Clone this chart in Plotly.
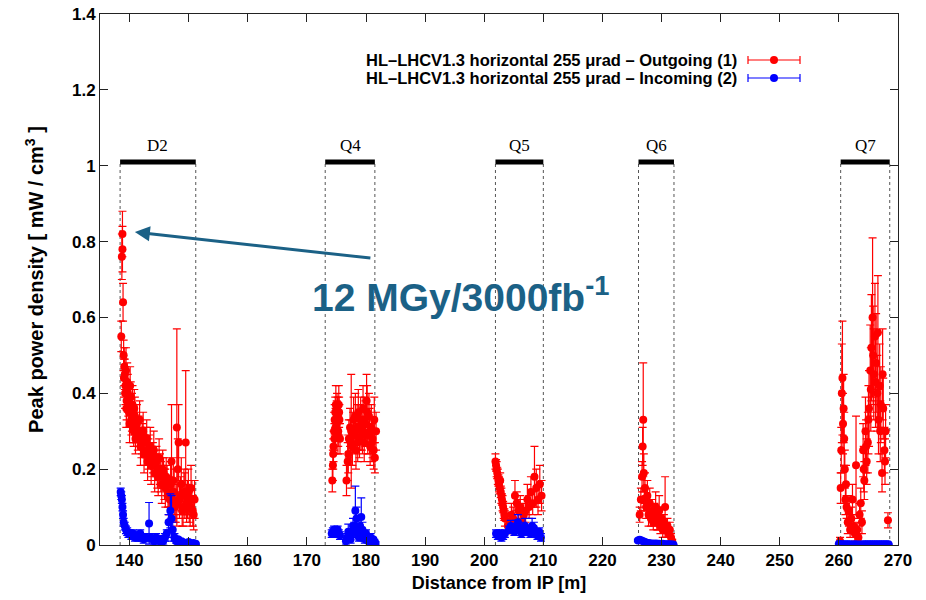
import plotly.graph_objects as go

# ---------------- data ----------------
# Outgoing (1) - red
out_x_d2 = [138.6,138.7,138.8,138.8,138.9,139.0,139.1,139.2,139.3,139.4,139.5,139.7,139.9,140.1,140.3,140.5,140.7,140.9,141.1,141.4,141.7,142.0,142.3,142.6,142.9,143.2,143.5,143.8,144.1,144.4,144.7,145.0,145.3,145.6,145.9,146.2,146.5,146.8,147.1,147.4,147.7,148.0,148.3,148.6,148.9,149.2,149.5,149.8,150.1,150.4,150.7,151.0,
            139.05,139.25,139.45,139.6,139.8,140.0,140.2,140.4,140.6,140.8,141.0,141.25,141.55,141.85,142.15,142.45,142.75,143.05,143.35,143.65,143.95,144.25,144.55,144.85,145.15,145.45,145.75,146.05,146.35,146.65,146.95,147.25,147.55,147.85,148.15,148.45,148.75,149.05,149.35,149.65,149.95,150.25,150.55,150.85]
out_y_d2 = [0.55,0.76,0.82,0.78,0.64,0.50,0.47,0.45,0.42,0.46,0.38,0.40,0.35,0.42,0.33,0.37,0.30,0.34,0.31,0.29,0.33,0.27,0.30,0.25,0.28,0.24,0.26,0.22,0.25,0.21,0.19,0.23,0.18,0.20,0.16,0.18,0.14,0.12,0.22,0.17,0.10,0.31,0.27,0.13,0.09,0.14,0.27,0.12,0.10,0.15,0.09,0.12,
            0.44,0.40,0.36,0.43,0.38,0.32,0.39,0.35,0.31,0.36,0.28,0.32,0.30,0.26,0.28,0.24,0.27,0.22,0.25,0.21,0.23,0.19,0.22,0.18,0.20,0.16,0.19,0.15,0.17,0.13,0.16,0.12,0.14,0.11,0.20,0.12,0.16,0.10,0.13,0.11,0.14,0.10,0.12,0.08]
out_e_d2 = [0.04,0.06,0.06,0.06,0.05,0.04,0.05,0.04,0.05,0.06,0.05,0.05,0.04,0.05,0.04,0.05,0.04,0.05,0.04,0.04,0.05,0.04,0.05,0.04,0.05,0.04,0.05,0.04,0.05,0.04,0.04,0.05,0.04,0.05,0.04,0.05,0.04,0.04,0.15,0.06,0.04,0.26,0.10,0.05,0.04,0.06,0.19,0.05,0.04,0.06,0.04,0.05,
            0.05,0.04,0.05,0.05,0.04,0.05,0.04,0.05,0.04,0.05,0.04,0.05,0.04,0.05,0.04,0.05,0.04,0.05,0.04,0.05,0.04,0.05,0.04,0.05,0.04,0.05,0.04,0.05,0.04,0.05,0.06,0.05,0.06,0.05,0.08,0.05,0.07,0.05,0.06,0.05,0.06,0.05,0.05,0.04]

out_x_q4 = [174.3,174.4,174.5,174.6,174.7,174.8,174.9,175.0,175.1,175.2,175.3,175.4,175.5,175.6,
            176.7,176.9,177.1,177.3,177.5,177.7,177.9,178.1,178.3,178.5,178.7,178.9,179.1,179.3,179.5,179.7,179.9,180.1,180.3,180.5,180.7,180.9,181.1,181.3,181.5,181.7,
            174.45,174.65,174.85,175.05,175.25,175.45,177.0,177.4,177.8,178.2,178.6,179.0,179.4,179.8,180.2,180.6,181.0,181.4]
out_y_q4 = [0.17,0.21,0.26,0.30,0.33,0.35,0.37,0.32,0.36,0.34,0.30,0.37,0.33,0.28,
            0.17,0.22,0.28,0.31,0.30,0.26,0.33,0.29,0.25,0.31,0.35,0.28,0.33,0.30,0.36,0.27,0.32,0.38,0.29,0.34,0.26,0.31,0.28,0.25,0.23,0.30,
            0.24,0.28,0.31,0.34,0.29,0.35,0.24,0.27,0.30,0.34,0.27,0.31,0.29,0.33,0.35,0.30,0.27,0.33]
out_e_q4 = [0.03,0.04,0.04,0.05,0.04,0.04,0.05,0.04,0.04,0.05,0.04,0.05,0.04,0.04,
            0.04,0.05,0.05,0.05,0.15,0.05,0.06,0.05,0.05,0.06,0.06,0.05,0.06,0.05,0.06,0.05,0.06,0.07,0.05,0.06,0.05,0.06,0.05,0.05,0.04,0.05,
            0.04,0.04,0.05,0.04,0.05,0.04,0.05,0.06,0.05,0.06,0.05,0.06,0.05,0.06,0.07,0.06,0.05,0.06]

out_x_q5 = [201.9,202.0,202.1,202.2,202.3,202.4,202.5,202.6,202.7,202.8,202.9,203.0,203.1,203.2,203.3,203.4,203.5,
            204.0,204.3,204.6,204.9,205.2,205.5,205.8,206.1,206.4,206.7,207.0,207.3,207.6,207.9,208.2,208.5,208.8,209.1,209.4,209.7]
out_y_q5 = [0.22,0.21,0.20,0.19,0.18,0.17,0.16,0.15,0.17,0.14,0.13,0.12,0.11,0.10,0.09,0.08,0.07,
            0.05,0.06,0.08,0.07,0.13,0.11,0.09,0.10,0.06,0.08,0.09,0.12,0.10,0.14,0.11,0.18,0.15,0.12,0.16,0.13]
out_e_q5 = [0.02,0.015,0.02,0.015,0.02,0.015,0.02,0.015,0.02,0.015,0.02,0.015,0.02,0.015,0.02,0.015,0.02,
            0.02,0.02,0.03,0.03,0.04,0.03,0.03,0.03,0.02,0.03,0.03,0.04,0.03,0.04,0.03,0.08,0.05,0.04,0.05,0.04]

out_x_q6 = [226.3,226.5,226.7,226.8,226.9,227.0,227.1,227.2,227.4,227.6,227.8,228.0,228.2,228.4,228.6,228.8,229.0,229.2,229.4,229.6,229.8,230.0,230.2,230.4,230.6,230.8,231.0,231.2,231.4,231.6,231.8]
out_y_q6 = [0.08,0.12,0.18,0.26,0.33,0.19,0.12,0.15,0.10,0.13,0.08,0.11,0.07,0.09,0.06,0.08,0.10,0.06,0.07,0.09,0.05,0.07,0.04,0.06,0.10,0.04,0.05,0.03,0.04,0.02,0.01]
out_e_q6 = [0.02,0.03,0.04,0.05,0.15,0.05,0.03,0.04,0.03,0.04,0.03,0.04,0.02,0.03,0.02,0.03,0.04,0.02,0.03,0.04,0.02,0.03,0.02,0.02,0.08,0.02,0.02,0.01,0.02,0.01,0.005]

out_x_q7 = [260.2,260.3,260.4,260.5,260.6,260.7,260.8,260.9,261.0,261.1,261.2,261.3,261.5,261.7,261.9,262.1,262.3,262.5,262.7,262.9,263.1,263.3,263.5,263.7,263.9,264.1,264.3,264.5,264.7,264.9,265.1,265.3,265.5,265.7,265.9,266.1,266.3,266.5,266.7,266.9,267.1,267.3,267.5,267.7,267.9,268.3,
            264.2,264.6,265.0,265.4,265.8,266.2,266.6,267.0,267.4,267.8]
out_y_q7 = [0.01,0.15,0.25,0.40,0.44,0.32,0.36,0.28,0.20,0.12,0.16,0.10,0.06,0.09,0.04,0.07,0.12,0.05,0.03,0.21,0.04,0.02,0.08,0.11,0.06,0.25,0.17,0.30,0.22,0.27,0.36,0.46,0.52,0.60,0.45,0.55,0.48,0.40,0.33,0.42,0.37,0.19,0.36,0.25,0.30,0.065,
            0.20,0.26,0.33,0.41,0.50,0.43,0.56,0.30,0.45,0.22]
out_e_q7 = [0.01,0.04,0.06,0.13,0.15,0.08,0.09,0.07,0.05,0.04,0.05,0.03,0.03,0.04,0.02,0.03,0.04,0.02,0.02,0.13,0.02,0.01,0.03,0.04,0.03,0.07,0.05,0.09,0.06,0.08,0.10,0.12,0.14,0.21,0.12,0.14,0.13,0.10,0.09,0.11,0.10,0.05,0.08,0.06,0.07,0.02,
            0.06,0.07,0.09,0.11,0.13,0.12,0.15,0.08,0.12,0.06]

# Incoming (2) - blue
in_x_d2 = [138.5,138.6,138.7,138.8,138.9,139.0,139.2,139.4,139.6,139.8,140.0,140.3,140.6,140.9,141.2,141.5,141.8,142.1,142.4,142.7,143.3,143.6,143.9,144.2,144.5,144.8,145.1,145.4,145.7,146.0,146.3,146.6,146.9,147.1,147.3,147.6,147.9,148.2,148.5,148.8,149.2,149.6,150.0,150.4,150.8,151.2]
in_y_d2 = [0.14,0.13,0.12,0.10,0.08,0.06,0.05,0.04,0.035,0.03,0.03,0.025,0.03,0.02,0.025,0.02,0.03,0.02,0.015,0.02,0.057,0.02,0.015,0.01,0.02,0.015,0.01,0.015,0.01,0.02,0.03,0.06,0.09,0.07,0.04,0.02,0.01,0.015,0.008,0.01,0.006,0.005,0.008,0.004,0.005,0.003]
in_e_d2 = [0.01,0.01,0.01,0.01,0.01,0.01,0.01,0.01,0.01,0.01,0.01,0.01,0.01,0.01,0.01,0.01,0.01,0.01,0.01,0.01,0.055,0.01,0.01,0.01,0.01,0.01,0.01,0.01,0.01,0.01,0.01,0.02,0.045,0.06,0.02,0.01,0.005,0.005,0.005,0.005,0.003,0.003,0.003,0.002,0.002,0.002]

in_x_q4 = [174.2,174.4,174.6,174.8,175.0,175.2,175.4,175.6,176.6,176.8,177.0,177.2,177.4,177.6,177.8,178.0,178.2,178.4,178.6,178.8,179.0,179.2,179.4,179.6,179.8,180.0,180.2,180.4,180.6,180.8,181.0,181.2,181.4,181.6]
in_y_q4 = [0.03,0.035,0.04,0.03,0.035,0.04,0.03,0.025,0.01,0.02,0.035,0.02,0.015,0.03,0.05,0.04,0.09,0.07,0.03,0.02,0.05,0.074,0.04,0.02,0.015,0.03,0.02,0.01,0.015,0.02,0.01,0.015,0.01,0.005]
in_e_q4 = [0.01,0.01,0.01,0.01,0.01,0.01,0.01,0.01,0.01,0.01,0.02,0.01,0.01,0.01,0.02,0.02,0.065,0.03,0.01,0.01,0.02,0.05,0.02,0.01,0.01,0.01,0.01,0.005,0.005,0.01,0.005,0.005,0.005,0.003]

in_x_q5 = [202.0,202.3,202.6,202.9,203.2,203.5,204.2,204.5,204.8,205.1,205.4,205.7,206.0,206.3,206.6,206.9,207.2,207.5,207.8,208.1,208.4,208.7,209.0,209.3,209.6]
in_y_q5 = [0.03,0.025,0.03,0.02,0.025,0.03,0.04,0.05,0.045,0.035,0.05,0.06,0.04,0.03,0.045,0.05,0.035,0.04,0.03,0.05,0.045,0.03,0.025,0.035,0.02]
in_e_q5 = [0.01,0.01,0.01,0.01,0.01,0.01,0.01,0.015,0.01,0.01,0.015,0.02,0.01,0.01,0.015,0.02,0.01,0.01,0.01,0.02,0.015,0.01,0.01,0.01,0.01]

in_x_q6 = [226.0,226.3,226.6,226.9,227.2,227.5,227.8,228.1,228.4,228.7,229.0,229.3,229.6,229.9,230.2,230.5,230.8,231.1,231.4,231.7,232.0]
in_y_q6 = [0.012,0.014,0.012,0.010,0.008,0.006,0.005,0.004,0.004,0.003,0.004,0.003,0.003,0.002,0.003,0.002,0.002,0.002,0.002,0.001,0.001]
in_e_q6 = [0.003,0.003,0.003,0.003,0.002,0.002,0.002,0.001,0.001,0.001,0.001,0.001,0.001,0.001,0.001,0.001,0.001,0.001,0.001,0.001,0.001]

in_x_q7 = [260.0,260.3,260.6,260.9,261.2,261.5,261.8,262.1,262.4,262.7,263.0,263.3,263.6,263.9,264.2,264.5,264.8,265.1,265.4,265.7,266.0,266.3,266.6,266.9,267.2,267.5,267.8,268.1,268.4]
in_y_q7 = [0.003,0.002,0.002,0.002,0.002,0.002,0.002,0.001,0.001,0.002,0.001,0.001,0.001,0.001,0.002,0.002,0.002,0.002,0.002,0.002,0.002,0.002,0.002,0.002,0.002,0.002,0.002,0.002,0.002]
in_e_q7 = [0.001,0.001,0.001,0.001,0.001,0.001,0.001,0.001,0.001,0.001,0.001,0.001,0.001,0.001,0.001,0.001,0.001,0.001,0.001,0.001,0.001,0.001,0.001,0.001,0.001,0.001,0.001,0.001,0.001]

out_x = out_x_d2 + out_x_q4 + out_x_q5 + out_x_q6 + out_x_q7
out_y = out_y_d2 + out_y_q4 + out_y_q5 + out_y_q6 + out_y_q7
out_e = out_e_d2 + out_e_q4 + out_e_q5 + out_e_q6 + out_e_q7
in_x = in_x_d2 + in_x_q4 + in_x_q5 + in_x_q6 + in_x_q7
in_y = in_y_d2 + in_y_q4 + in_y_q5 + in_y_q6 + in_y_q7
in_e = in_e_d2 + in_e_q4 + in_e_q5 + in_e_q6 + in_e_q7

series_names = ["HL\u2013LHCV1.3 horizontal 255 \u03bcrad \u2013 Outgoing (1)",
                "HL\u2013LHCV1.3 horizontal 255 \u03bcrad \u2013 Incoming (2)"]

magnet_names = ["D2", "Q4", "Q5", "Q6", "Q7"]
magnet_start = [138.4, 173.1, 201.9, 226.1, 260.3]
magnet_end = [151.2, 181.5, 210.0, 232.1, 268.6]
magnet_level = 1.01

x_ticks = list(range(140, 271, 10))
y_ticks = [0, 0.2, 0.4, 0.6, 0.8, 1.0, 1.2, 1.4]
y_ticklabels = ["0", "0.2", "0.4", "0.6", "0.8", "1", "1.2", "1.4"]

annot_text = "12 MGy/3000fb<sup>-1</sup>"
arrow_tail = (181.0, 0.756)
arrow_head = (140.9, 0.825)

# ---------------- figure ----------------
RED = "#ff0000"
BLUE = "#0000ff"
fig = go.Figure()

fig.add_trace(go.Scatter(
    x=out_x, y=out_y, mode="markers", name=series_names[0],
    marker=dict(color=RED, size=8),
    error_y=dict(type="data", array=out_e, color=RED, thickness=1.2, width=4),
))
fig.add_trace(go.Scatter(
    x=in_x, y=in_y, mode="markers", name=series_names[1],
    marker=dict(color=BLUE, size=8),
    error_y=dict(type="data", array=in_e, color=BLUE, thickness=1.2, width=4),
))

shapes = []
annotations = []
for name, x0, x1 in zip(magnet_names, magnet_start, magnet_end):
    shapes.append(dict(type="line", xref="x", yref="y", x0=x0, x1=x1, y0=magnet_level, y1=magnet_level,
                       line=dict(color="black", width=5), layer="above"))
    for xv in (x0, x1):
        shapes.append(dict(type="line", xref="x", yref="y", x0=xv, x1=xv, y0=0, y1=magnet_level,
                           line=dict(color="#555555", width=1, dash="dot"), layer="below"))
    annotations.append(dict(x=(x0 + x1) / 2, y=magnet_level, xref="x", yref="y", text=name,
                            showarrow=False, yanchor="bottom", yshift=5,
                            font=dict(family="Liberation Serif", size=17, color="black")))

# legend (manual, key on the right of the text)
leg_rows_y = [60, 78]          # pixel rows
leg_colors = [RED, BLUE]
plot_l, plot_r, plot_t, plot_b = 100, 898, 14, 545
def px2paper(px, py):
    return (px - plot_l) / (plot_r - plot_l), (plot_b - py) / (plot_b - plot_t)

for name, py, col in zip(series_names, leg_rows_y, leg_colors):
    tx, ty = px2paper(738, py)
    annotations.append(dict(x=tx, y=ty, xref="paper", yref="paper", text="<b>" + name + "</b>",
                            showarrow=False, xanchor="right", yanchor="middle", borderpad=0,
                            font=dict(family="Liberation Sans", size=16.5, color="black")))
    ax0, ay = px2paper(748, py)
    ax1, _ = px2paper(800, py)
    axm, _ = px2paper(774, py)
    shapes.append(dict(type="line", xref="paper", yref="paper", x0=ax0, x1=ax1, y0=ay, y1=ay,
                       line=dict(color=col, width=1.2)))
    for xe in (ax0, ax1):
        shapes.append(dict(type="line", xref="paper", yref="paper", xsizemode="pixel", ysizemode="pixel",
                           xanchor=xe, yanchor=ay, x0=0, x1=0, y0=-4, y1=4,
                           line=dict(color=col, width=1.2)))
    shapes.append(dict(type="circle", xref="paper", yref="paper", xsizemode="pixel", ysizemode="pixel",
                       xanchor=axm, yanchor=ay, x0=-4, x1=4, y0=-4, y1=4,
                       fillcolor=col, line=dict(color=col, width=0)))

TEAL = "#1b6186"
annotations.append(dict(x=arrow_head[0], y=arrow_head[1], ax=arrow_tail[0], ay=arrow_tail[1],
                        xref="x", yref="y", axref="x", ayref="y", text="", showarrow=True,
                        arrowhead=2, arrowsize=1, arrowwidth=3, arrowcolor=TEAL))
annotations.append(dict(x=196.0, y=0.66, xref="x", yref="y", text="<b>" + annot_text + "</b>",
                        showarrow=False, xanchor="center", yanchor="middle",
                        font=dict(family="Liberation Sans", size=39, color=TEAL)))

tick_font = dict(family="Liberation Sans", size=17, color="black", weight="bold")
xtitle_font = dict(family="Liberation Sans", size=18, color="black", weight="bold")
ytitle_font = dict(family="Liberation Sans", size=20, color="black", weight="bold")
fig.update_layout(
    width=926, height=600,
    margin=dict(l=plot_l, r=926 - plot_r, t=plot_t, b=600 - plot_b),
    paper_bgcolor="white", plot_bgcolor="white",
    showlegend=False,
    shapes=shapes, annotations=annotations,
    xaxis=dict(range=[135, 270], tickvals=x_ticks, ticks="inside", ticklen=8, tickcolor="#222",
               showline=True, linecolor="#222", linewidth=1, mirror="ticks", showgrid=False, zeroline=False,
               tickfont=tick_font, automargin=False,
               title=dict(text="Distance from IP [m]", font=xtitle_font, standoff=6)),
    yaxis=dict(range=[0, 1.4], tickvals=y_ticks, ticktext=y_ticklabels, ticks="inside", ticklen=8,
               tickcolor="#222", showline=True, linecolor="#222", linewidth=1, mirror="ticks",
               showgrid=False, zeroline=False, tickfont=tick_font, automargin=False,
               title=dict(text="Peak power density [ mW / cm<sup>3</sup> ]", font=ytitle_font, standoff=22)),
)

fig.write_html("out.html")
